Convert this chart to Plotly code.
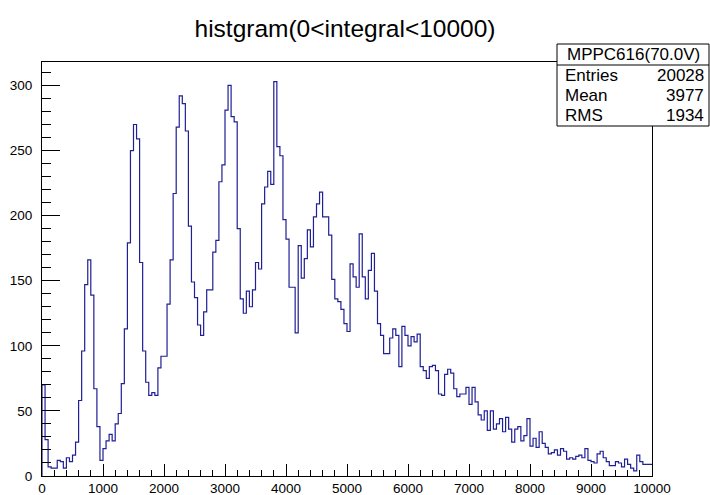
import plotly.graph_objects as go

# ---- data ----
bin_width = 50
x_min, x_max = 0, 10000
counts = [
    70, 28, 7, 6, 6, 12, 11, 6, 14, 11,
    16, 26, 58, 96, 147, 166, 139, 67, 38, 12,
    21, 27, 32, 27, 40, 48, 71, 113, 179, 250,
    270, 259, 164, 96, 72, 62, 64, 62, 83, 92,
    92, 132, 166, 217, 268, 292, 286, 265, 192, 149,
    137, 116, 108, 126, 143, 143, 172, 181, 226, 239,
    281, 300, 276, 272, 190, 136, 125, 142, 130, 143,
    164, 159, 209, 222, 234, 224, 303, 253, 246, 197,
    182, 145, 145, 110, 177, 152, 167, 189, 176, 199,
    209, 218, 199, 199, 185, 151, 136, 134, 128, 117,
    111, 163, 153, 145, 186, 153, 136, 158, 171, 142,
    117, 108, 94, 94, 106, 113, 108, 84, 115, 108,
    100, 107, 103, 109, 84, 81, 75, 84, 85, 81,
    63, 62, 78, 82, 79, 67, 61, 63, 63, 68,
    55, 68, 57, 47, 43, 50, 35, 50, 36, 40,
    44, 34, 45, 36, 26, 36, 38, 27, 31, 44,
    23, 29, 22, 34, 25, 22, 17, 18, 20, 16,
    21, 19, 13, 14, 13, 15, 16, 14, 21, 12,
    11, 10, 17, 19, 14, 11, 8, 8, 11, 10,
    7, 13, 9, 6, 4, 16, 11, 9, 9, 9,
]
title_text = "histgram(0<integral<10000)"
stats_name = "MPPC616(70.0V)"
stats_labels = ["Entries", "Mean", "RMS"]
stats_values = ["20028", "3977", "1934"]

# ---- step outline of the histogram ----
edges = [x_min + i * bin_width for i in range(len(counts) + 1)]
xs = [edges[0]] + edges
ys = [0] + counts + [counts[-1]]

W, H = 710, 495
L, R, T, B = 42, 652, 62, 476  # frame in pixels


def px(x):
    return (x - L) / (R - L)


def py(y):
    return (B - y) / (B - T)


fig = go.Figure()
fig.add_trace(go.Scatter(
    x=xs, y=ys, mode="lines", line=dict(shape="hv", color="#1f1f96", width=1.2),
    hoverinfo="skip", showlegend=False,
))

font = "Liberation Sans, Arial, Helvetica, sans-serif"

fig.update_layout(
    width=W, height=H,
    margin=dict(l=L, r=W - R, t=T, b=H - B, autoexpand=False),
    paper_bgcolor="white", plot_bgcolor="white",
    title=dict(text=title_text, x=345 / W, xref="container", xanchor="center",
               y=1 - 28 / H, yref="container", yanchor="middle",
               font=dict(family=font, size=24.5, color="black")),
    font=dict(family=font, color="black"),
)
fig.update_xaxes(
    range=[x_min, x_max], showgrid=False, zeroline=False, automargin=False,
    showline=True, linecolor="black", linewidth=1, mirror=True,
    ticks="inside", ticklen=12, tickcolor="black", tickwidth=1,
    dtick=1000, tick0=0, tickformat="d", separatethousands=False,
    tickfont=dict(family=font, size=13.5, color="black"),
    minor=dict(ticks="inside", ticklen=6, dtick=200, tickcolor="black", showgrid=False),
)
fig.update_yaxes(
    range=[0, 318], showgrid=False, zeroline=False, automargin=False,
    showline=True, linecolor="black", linewidth=1, mirror=True,
    ticks="inside", ticklen=18, tickcolor="black", tickwidth=1,
    dtick=50, tick0=0, tickformat="d",
    tickfont=dict(family=font, size=13.5, color="black"),
    ticklabelstandoff=6,
    minor=dict(ticks="inside", ticklen=9, dtick=10, tickcolor="black", showgrid=False),
)

# ---- stats box ----
bx0, bx1, by0, by1 = 557, 709, 44, 126
fig.add_shape(type="rect", xref="paper", yref="paper",
              x0=px(bx0), x1=px(bx1), y0=py(by1), y1=py(by0),
              line=dict(color="black", width=1), fillcolor="white", layer="above")
fig.add_shape(type="line", xref="paper", yref="paper",
              x0=px(bx0), x1=px(bx1), y0=py(65), y1=py(65),
              line=dict(color="black", width=1), layer="above")
sfont = dict(family=font, size=17, color="black")
fig.add_annotation(xref="paper", yref="paper", x=px(633), y=py(55), text=stats_name,
                   showarrow=False, xanchor="center", yanchor="middle", font=sfont)
for i, (lab, val) in enumerate(zip(stats_labels, stats_values)):
    yy = 75 + 20 * i
    fig.add_annotation(xref="paper", yref="paper", x=px(563), y=py(yy), text=lab,
                       showarrow=False, xanchor="left", yanchor="middle", font=sfont)
    fig.add_annotation(xref="paper", yref="paper", x=px(706), y=py(yy), text=val,
                       showarrow=False, xanchor="right", yanchor="middle", font=sfont)

fig.write_html("out.html")
